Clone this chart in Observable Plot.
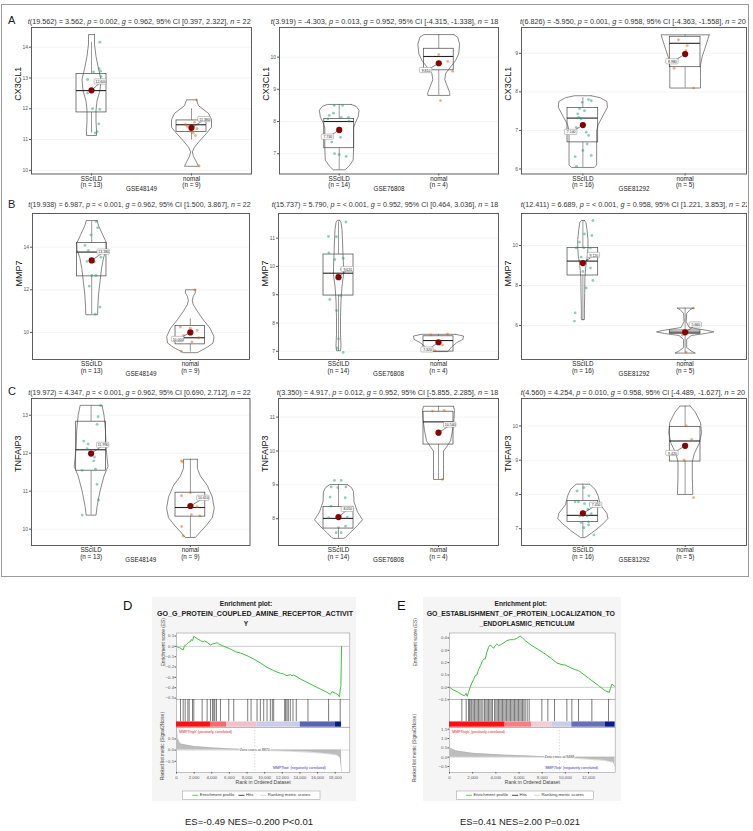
<!DOCTYPE html>
<html><head><meta charset="utf-8">
<script src="https://cdn.jsdelivr.net/npm/d3@7"></script>
<script src="https://cdn.jsdelivr.net/npm/@observablehq/plot@0.6"></script>
<style>
html,body{margin:0;padding:0;background:#fff;}
#root{position:relative;width:753px;height:831px;overflow:hidden;font-family:"Liberation Sans",Arial,sans-serif;}
</style></head><body><div id="root"></div>
<script>
// ================= DATA =================
const geneNames = ["CX3CL1", "MMP7", "TNFAIP3"];
const datasets = ["GSE48149", "GSE76808", "GSE81292"];
const groupNames = ["SScILD", "nomal"];
const nSScILD = [13, 14, 16];
const nNormal = [9, 4, 5];
const statSubtitles = [
  "t(19.562) = 3.562, p = 0.002, g = 0.962, 95% CI [0.397, 2.322], n = 22",
  "t(3.919) = -4.303, p = 0.013, g = 0.952, 95% CI [-4.315, -1.338], n = 18",
  "t(6.826) = -5.950, p = 0.001, g = 0.958, 95% CI [-4.363, -1.558], n = 20",
  "t(19.938) = 6.987, p = < 0.001, g = 0.962, 95% CI [1.500, 3.867], n = 22",
  "t(15.737) = 5.790, p = < 0.001, g = 0.952, 95% CI [0.464, 3.036], n = 18",
  "t(12.411) = 6.689, p = < 0.001, g = 0.958, 95% CI [1.221, 3.853], n = 22",
  "t(19.972) = 4.347, p = < 0.001, g = 0.962, 95% CI [0.690, 2.712], n = 22",
  "t(3.350) = 4.917, p = 0.012, g = 0.952, 95% CI [-5.855, 2.285], n = 18",
  "t(4.560) = 4.254, p = 0.010, g = 0.958, 95% CI [-4.489, -1.627], n = 20"
];
const yDomains = [[9.88,14.64],[6.37,10.92],[5.87,9.67],[8.73,15.58],[6.71,11.87],[4.3,11.6],[9.57,13.44],[7.21,11.55],[6.51,10.80]];
const yTickValues = [[10,11,12,13,14],[7,8,9,10],[6,7,8,9],[10,12,14],[7,8,9,10,11],[6,8,10],[10,11,12,13],[8,9,10,11],[7,8,9,10]];

// violin outlines: [value, half-width]
const violinSScILD = [
  [[14.41,0.03],[14.1,0.03],[13.7,0.045],[13.3,0.07],[12.95,0.095],[12.6,0.085],[12.25,0.055],[11.95,0.045],[11.6,0.045],[11.3,0.05],[11.13,0.05]],
  [[8.53,0.12],[8.47,0.17],[8.35,0.2],[8.15,0.19],[7.95,0.16],[7.8,0.145],[7.2,0.145],[6.8,0.14],[6.62,0.1],[6.5,0.06]],
  [[7.90,0.08],[7.85,0.17],[7.75,0.235],[7.6,0.24],[7.4,0.2],[7.15,0.15],[7.0,0.135],[6.5,0.135],[6.1,0.135],[6.04,0.11]],
  [[15.25,0.055],[15.0,0.07],[14.6,0.11],[14.2,0.15],[13.9,0.15],[13.5,0.12],[13.0,0.1],[12.4,0.085],[11.8,0.07],[11.2,0.062],[10.83,0.06]],
  [[11.63,0.012],[11.55,0.025],[11.3,0.035],[10.9,0.04],[10.4,0.045],[10.0,0.05],[9.7,0.05],[9.3,0.035],[8.8,0.025],[8.2,0.02],[7.6,0.02],[7.2,0.025],[7.02,0.02]],
  [[11.25,0.015],[11.15,0.03],[10.8,0.04],[10.3,0.05],[9.9,0.05],[9.5,0.045],[9.0,0.03],[8.4,0.02],[7.6,0.018],[6.8,0.015],[6.3,0.015]],
  [[13.26,0.11],[13.0,0.13],[12.6,0.145],[12.2,0.15],[11.9,0.16],[11.65,0.17],[11.4,0.13],[11.0,0.09],[10.6,0.06],[10.37,0.05]],
  [[9.01,0.087],[8.92,0.13],[8.8,0.15],[8.5,0.155],[8.2,0.19],[7.97,0.24],[7.8,0.19],[7.6,0.12],[7.45,0.07],[7.42,0.05]],
  [[8.30,0.065],[8.15,0.12],[7.95,0.15],[7.7,0.17],[7.45,0.235],[7.3,0.245],[7.15,0.2],[6.95,0.12],[6.8,0.05],[6.74,0.02]]
];
const violinNormal = [
  [[12.29,0.05],[12.1,0.07],[11.85,0.17],[11.65,0.2],[11.4,0.2],[11.2,0.15],[10.95,0.08],[10.75,0.03],[10.6,0.008],[10.45,0.02],[10.3,0.045],[10.13,0.07]],
  [[10.70,0.15],[10.62,0.19],[10.4,0.21],[10.1,0.2],[9.9,0.17],[9.7,0.12],[9.5,0.07],[9.3,0.06],[9.1,0.085],[8.9,0.11],[8.81,0.11]],
  [[9.48,0.235],[9.35,0.22],[9.1,0.19],[8.9,0.165],[8.68,0.15],[8.4,0.15],[8.1,0.15]],
  [[12.0,0.05],[11.85,0.05],[11.7,0.03],[11.5,0.02],[11.3,0.03],[11.0,0.07],[10.6,0.13],[10.2,0.2],[9.8,0.24],[9.5,0.23],[9.3,0.17],[9.1,0.09],[9.05,0.07]],
  [[7.6,0.17],[7.54,0.25],[7.42,0.245],[7.3,0.18],[7.15,0.13],[7.02,0.1],[6.99,0.09]],
  [[6.87,0.08],[6.8,0.05],[6.6,0.015],[6.2,0.01],[5.9,0.04],[5.75,0.22],[5.68,0.28],[5.6,0.2],[5.5,0.06],[5.3,0.015],[4.9,0.015],[4.72,0.06],[4.62,0.1]],
  [[11.84,0.07],[11.6,0.07],[11.4,0.1],[11.15,0.17],[10.85,0.22],[10.55,0.24],[10.3,0.22],[10.1,0.16],[9.9,0.09],[9.78,0.05]],
  [[11.32,0.15],[11.2,0.16],[10.95,0.155],[10.6,0.14],[10.3,0.12],[10.12,0.08],[10.0,0.05],[9.6,0.05],[9.16,0.05]],
  [[10.58,0.05],[10.4,0.1],[10.1,0.15],[9.8,0.16],[9.5,0.14],[9.2,0.09],[8.95,0.07],[8.5,0.07],[8.0,0.075]]
];
// box stats: [q1, median, q3, whisker low, whisker high]
const boxSScILD = [
  [11.88,12.59,13.13,11.21,14.16],[7.17,8.0,8.08,6.5,8.53],[6.69,7.32,7.58,6.04,7.85],
  [12.63,13.77,14.19,10.83,15.2],[8.97,9.76,10.42,7.0,11.57],[8.5,9.22,9.87,6.22,11.25],
  [11.54,12.09,12.83,10.37,13.25],[7.71,8.01,8.35,7.42,9.01],[7.20,7.39,7.81,6.74,8.30]
];
const boxNormal = [
  [11.24,11.48,11.62,10.98,12.0],[9.59,10.02,10.26,8.81,10.70],[8.64,9.26,9.43,8.1,9.48],
  [9.44,9.75,10.30,9.08,10.64],[6.99,7.38,7.53,6.99,7.6],[5.58,5.67,5.75,4.62,6.87],
  [10.33,10.57,10.96,9.78,11.84],[10.19,10.86,11.16,9.16,11.32],[8.96,9.56,9.97,8.0,10.58]
];
const meanSScILD = [12.60, 7.74, 7.14, 13.38, 9.62, 9.12, 11.99, 8.05, 7.45];
const meanNormal = [11.38, 9.81, 8.98, 10.00, 7.32, 5.66, 10.61, 10.54, 9.42];
// points: [jitter, value]
const pointsSScILD = [
  [[0.083,14.16],[0.076,13.30],[0.09,13.22],[0.096,13.05],[-0.04,12.95],[0.086,12.85],[-0.04,12.51],[0.01,12.0],[0.083,11.98],[0.073,11.51],[0.056,11.26],[0.037,11.21],[0.02,13.2]],
  [[-0.05,8.50],[0.034,8.50],[-0.1,8.19],[-0.057,8.26],[0.02,8.13],[0.094,8.13],[-0.114,8.08],[0.1,8.01],[0,7.67],[0.013,7.51],[-0.047,7.0],[0,6.97],[0.07,6.92],[-0.074,7.36]],
  [[-0.007,7.73],[0.056,7.80],[0.082,7.77],[-0.033,7.56],[-0.05,7.43],[-0.042,7.34],[-0.016,7.30],[0.033,6.95],[0.056,6.87],[0,6.48],[-0.075,6.32],[0.082,6.35],[-0.062,6.07],[0.016,7.51],[-0.065,7.08],[0.042,6.65]],
  [[0.044,15.2],[0.06,14.91],[-0.007,14.58],[-0.068,14.08],[-0.034,13.84],[0.095,13.53],[-0.047,13.33],[0.027,13.30],[0,12.67],[0.044,12.67],[-0.024,12.17],[0.084,11.19],[0.037,10.86]],
  [[0.074,11.57],[-0.1,11.06],[-0.02,11.05],[-0.097,10.48],[-0.037,10.24],[0.047,10.29],[0.027,9.89],[-0.013,9.68],[-0.087,8.83],[-0.02,8.44],[-0.013,7.11],[0.047,6.96],[0,7.44],[0.02,8.97]],
  [[0.098,11.25],[0.016,10.58],[0.088,10.5],[-0.065,9.88],[0.01,9.88],[0.075,9.87],[0.082,9.58],[0,8.7],[0.075,8.87],[0.033,7.88],[0.098,8.25],[-0.075,6.63],[-0.082,6.22],[-0.016,9.42],[0.042,9.25],[-0.033,10.17]],
  [[0.095,13.25],[0.071,12.96],[0.06,12.76],[-0.03,12.24],[-0.04,12.12],[0.034,11.9],[-0.09,11.55],[0.044,11.58],[0.06,11.18],[0.074,10.77],[-0.09,10.37],[-0.074,12.32],[0.027,11.8]],
  [[-0.04,9.13],[0.027,9.13],[-0.074,8.94],[-0.007,8.92],[0.074,8.94],[-0.084,8.64],[-0.074,8.37],[0.067,8.62],[-0.1,8.03],[0.07,7.78],[0,7.74],[-0.023,7.59],[0.027,7.59],[0.087,8.05]],
  [[-0.056,8.10],[0.01,8.2],[0.059,7.96],[-0.042,7.79],[0.016,7.73],[-0.075,7.79],[0.075,7.71],[0.049,7.57],[0.082,7.44],[0.042,7.37],[-0.03,7.37],[-0.016,7.18],[0.056,7.2],[0.056,7.11],[0.01,7.03],[0.108,6.82]]
];
const pointsNormal = [
  [[0.05,12.29],[0.076,10.14],[0.03,11.56],[-0.043,11.42],[0.056,11.35],[-0.017,11.27],[0.017,11.21],[-0.06,11.49],[0.04,11.13]],
  [[0,10.08],[0.09,9.87],[0.14,9.56],[0.017,8.65]],
  [[-0.065,9.35],[-0.108,8.61],[0.082,8.10],[0.007,9.07],[0.02,9.2]],
  [[0.05,12.0],[-0.1,10.25],[0,10.2],[0.068,10.09],[-0.068,9.86],[-0.12,9.63],[0.084,9.75],[0.017,9.55],[-0.09,9.11]],
  [[-0.077,7.58],[0.09,7.61],[0.04,7.22],[-0.037,7.02]],
  [[0.082,6.87],[-0.016,5.75],[0.023,5.67],[-0.026,5.53],[0.01,4.67]],
  [[-0.09,11.8],[-0.078,11.77],[0,10.96],[-0.09,10.88],[0.068,10.59],[0.095,10.35],[0.01,10.38],[-0.088,10.07],[-0.074,9.82]],
  [[-0.06,11.18],[0.057,11.2],[0.04,9.16],[0,10.49]],
  [[0.013,10.0],[0.065,9.61],[-0.01,9.0],[0.082,7.91],[0,9.37]]
];

// ---- GSEA data ----
const gseaTitleD = ["Enrichment plot:", "GO_G_PROTEIN_COUPLED_AMINE_RECEPTOR_ACTIVIT", "Y"];
const gseaTitleE = ["Enrichment plot:", "GO_ESTABLISHMENT_OF_PROTEIN_LOCALIZATION_TO", "_ENDOPLASMIC_RETICULUM"];
const gseaStatsD = "ES=-0.49 NES=-0.200 P<0.01";
const gseaStatsE = "ES=0.41 NES=2.00 P=0.021";
const legendLabels = ["Enrichment profile", "Hits", "Ranking metric scores"];
const rankTicksD = [0,2000,4000,6000,8000,10000,12000,14000,16000,18000];
const rankTicksE = [0,2000,4000,6000,8000,10000,12000];
const esTicksD = [-0.5,-0.4,-0.3,-0.2,-0.1,0,0.1];
const esTicksE = [-0.1,0,0.1,0.2,0.3,0.4];
const metricTicksD = [-0.5,0,0.5];
const metricTicksE = [-0.5,0,0.5,1,1.5];
const zeroCrossD = 8870;
const zeroCrossE = 9488;
const esCurveD = [[0,0],[453,-0.019],[755,-0.035],[906,0.006],[1132,0.016],[1359,0.039],[1585,0.045],[1661,0.065],[1812,0.055],[1962,0.097],[2189,0.084],[2415,0.071],[2717,0.055],[3019,0.045],[3170,0.052],[3472,0.039],[3849,0.013],[4076,0.023],[4378,0.029],[4604,0.035],[4793,0.023],[4982,0.016],[5359,0],[5925,-0.019],[6303,-0.035],[6680,-0.052],[7246,-0.065],[8001,-0.09],[8756,-0.123],[9510,-0.161],[10265,-0.203],[11020,-0.235],[11397,-0.248],[11775,-0.261],[12152,-0.268],[12530,-0.284],[12907,-0.274],[13096,-0.284],[13284,-0.277],[13662,-0.294],[14039,-0.316],[14794,-0.348],[15549,-0.381],[16304,-0.413],[17058,-0.445],[17436,-0.465],[17625,-0.439],[18002,-0.452],[18380,-0.471],[18493,-0.49],[18568,-0.413],[18643,-0.387],[18719,0]];
const hitsD = [453,755,981,1283,1434,1812,1962,2906,3472,3849,4076,4227,4340,4529,4982,5925,6491,8076,8454,9133,9510,9888,10265,10643,10869,11020,12266,12379,12530,12681,12907,13209,13586,14907,17247,18568];
const metricD = [[0,0.95],[60,0.75],[150,0.5],[450,0.27],[1962,0.16],[3849,0.1],[5736,0.06],[7623,0.03],[8870,0],[11397,-0.03],[13284,-0.06],[15171,-0.1],[17058,-0.16],[18190,-0.22],[18568,-0.33],[18680,-0.7],[18719,-0.95]];
const colorBandD = [[0,3850,1],[3850,5700,0.6],[5700,9130,0.2],[9130,14040,-0.15],[14040,18000,-0.65],[18000,18720,-1]];
const esCurveE = [[0,0],[345,-0.022],[777,-0.041],[1065,-0.059],[1295,-0.068],[1439,-0.049],[1525,-0.073],[1640,-0.041],[1784,0],[1928,0.035],[2072,0.062],[2216,0.095],[2360,0.1],[2446,0.127],[2561,0.154],[2677,0.176],[2849,0.216],[2964,0.23],[3079,0.23],[3223,0.284],[3367,0.324],[3511,0.343],[3655,0.332],[3799,0.316],[3943,0.338],[4087,0.351],[4231,0.338],[4375,0.343],[4662,0.359],[4950,0.378],[5238,0.386],[5526,0.386],[5814,0.397],[6101,0.414],[6245,0.405],[6533,0.378],[7109,0.338],[7684,0.305],[8260,0.27],[8835,0.23],[9267,0.197],[9699,0.184],[9988,0.181],[10562,0.154],[10850,0.143],[11138,0.135],[11713,0.095],[12289,0.054],[12865,0.014],[13440,-0.027],[13786,-0.041],[13872,-0.014],[14016,0.027],[14246,0.008]];
const hitsE = [1065,1439,1640,1727,1842,1928,2043,2159,2274,2389,2504,2619,2734,2878,3022,3137,3252,3367,3482,3598,3713,3885,4000,4116,4231,4346,4461,4576,4691,4806,4921,5037,5152,5267,5382,5497,5612,5727,5842,5958,6073,6188,6303,6418,6533,6706,6878,7972,8490,9066,10131,10562,11138,12289,13728];
const metricE = [[0,0.5],[489,0.34],[1928,0.21],[3367,0.16],[4806,0.11],[6245,0.07],[7684,0.04],[9488,0],[10562,-0.05],[12001,-0.11],[13440,-0.18],[14160,-0.29],[14280,-0.46]];
const colorBandE = [[0,4800,1],[4800,7100,0.5],[7100,8835,0.15],[8835,10560,-0.15],[10560,13440,-0.6],[13440,14300,-1]];

// ================= LAYOUT =================
const root = document.getElementById("root");
const FONT = '"Liberation Sans", Arial, sans-serif';
const colorSScILD = "#1B9E77", colorNormal = "#D95F02";
const panelFrames = [
  [30.5,250.5,27,173.5],[279.3,498.3,27,173.5],[520.7,745.7,27,173.5],
  [31.5,248.5,213,359],[278.3,498.3,213,359],[520.7,745.7,213,359],
  [31,249.5,397.5,544.5],[278.3,498.3,397.5,544.5],[520.7,745.7,397.5,544.5]
];
const meanLabelOffsets = [
  [[9.3,-8.3],[13,-8.3]],[[-11.3,7.3],[-12.7,7.3]],[[-11.7,7.3],[-12.7,7.7]],
  [[12,-8.3],[-12.3,7]],[[9.3,-7.7],[-11,7.7]],[[11,-7.7],[10.7,-7.3]],
  [[12,-8.3],[13,-7.7]],[[9.3,-7.7],[11.7,-7.7]],[[13.3,-8],[-12.7,7.7]]
];

function place(el, left, top) {
  el.style.position = "absolute";
  el.style.left = left + "px";
  el.style.top = top + "px";
  el.style.background = "transparent";
  el.style.overflow = "visible";
  el.style.maxWidth = "none";
  root.appendChild(el);
}

// outer frame of rows A-C
const frameDiv = document.createElement("div");
Object.assign(frameDiv.style, {position:"absolute", left:"1px", top:"4px", width:"748px", height:"573px", border:"1px solid #9a9a9a", boxSizing:"border-box"});
root.appendChild(frameDiv);
// GSEA backgrounds
[[152,597,204,204],[423,597,198,204]].forEach(([l,t,w,h]) => {
  const d = document.createElement("div");
  Object.assign(d.style, {position:"absolute", left:l+"px", top:t+"px", width:w+"px", height:h+"px", background:"#f5f5f5"});
  root.appendChild(d);
});

function violinPath(outline, c) {
  const right = outline.map(([v, hw]) => ({x: c + hw, y: v}));
  const left = outline.slice().reverse().map(([v, hw]) => ({x: c - hw, y: v}));
  return [...right, ...left, right[0]];
}

function drawViolinPanel(i) {
  const col = i % 3;
  const [L, R, T, B] = panelFrames[i];
  const [lo, hi] = yDomains[i];
  const W = R - L, H = B - T;
  const mL = 26, mR = 2, mT = 2, mB = 24;
  const xPx = W / 2.2, yPx = H / (hi - lo);
  const groups = [
    {c: 1, violin: violinSScILD[i], box: boxSScILD[i], pts: pointsSScILD[i], mean: meanSScILD[i], color: colorSScILD, off: meanLabelOffsets[i][0]},
    {c: 2, violin: violinNormal[i], box: boxNormal[i], pts: pointsNormal[i], mean: meanNormal[i], color: colorNormal, off: meanLabelOffsets[i][1]}
  ];
  const marks = [
    Plot.gridY(yTickValues[i], {stroke: "#ececec", strokeOpacity: 1, strokeWidth: 0.6}),
    Plot.frame({stroke: "#4d4d4d", strokeWidth: 0.9}),
    Plot.axisY(yTickValues[i], {tickSize: 2, tickPadding: 1.5, fontSize: 5, label: null, stroke: "#555", fill: "#555"}),
    Plot.axisX([1, 2], {tickSize: 2, tickPadding: 0.5, fontSize: 6.3, label: null, stroke: "#555", fill: "#222",
      tickFormat: d => d === 1 ? `${groupNames[0]}\n(n = ${nSScILD[col]})` : `${groupNames[1]}\n(n = ${nNormal[col]})`}),
    Plot.text([datasets[col]], {frameAnchor: "bottom", dy: 16.5, fontSize: 6.3, text: d => d, fill: "#222"}),
    Plot.text([geneNames[Math.floor(i / 3)]], {frameAnchor: "left", dx: -13, rotate: -90, fontSize: 9, text: d => d, fill: "#111"})
  ];
  for (const g of groups) {
    const c = g.c;
    marks.push(Plot.line(violinPath(g.violin, c), {x: "x", y: "y", stroke: "#555", strokeWidth: 0.7}));
    marks.push(Plot.ruleX([g.box], {x: () => c, y1: d => d[3], y2: d => d[0], stroke: "#555", strokeWidth: 0.6}));
    marks.push(Plot.ruleX([g.box], {x: () => c, y1: d => d[2], y2: d => d[4], stroke: "#555", strokeWidth: 0.6}));
    marks.push(Plot.rect([g.box], {x1: () => c - 0.15, x2: () => c + 0.15, y1: d => d[0], y2: d => d[2], fill: "none", stroke: "#444", strokeWidth: 0.7}));
    marks.push(Plot.ruleY([g.box], {y: d => d[1], x1: () => c - 0.15, x2: () => c + 0.15, stroke: "#222", strokeWidth: 1.1}));
    marks.push(Plot.dot(g.pts, {x: d => c + d[0], y: d => d[1], r: 1.4, fill: g.color, fillOpacity: 0.5, stroke: "none"}));
    const lx = c + g.off[0] / xPx, ly = g.mean - g.off[1] / yPx;
    marks.push(Plot.dot([g.mean], {x: () => c, y: d => d, r: 3.1, fill: "#8b0000", stroke: "none"}));
    marks.push(Plot.link([g.mean], {x1: () => c, y1: d => d, x2: () => lx, y2: () => ly, stroke: "#333", strokeWidth: 0.6}));
    marks.push(Plot.rect([g.mean], {x1: () => lx - 6.2 / xPx, x2: () => lx + 6.2 / xPx, y1: () => ly - 2.6 / yPx, y2: () => ly + 2.6 / yPx, fill: "white", stroke: "#888", strokeWidth: 0.5, rx: 1}));
    marks.push(Plot.text([g.mean], {x: () => lx, y: () => ly, text: d => d3.format(".3f")(d), fontSize: 3.5, fill: "#222"}));
  }
  const svg = Plot.plot({
    width: W + mL + mR, height: H + mT + mB,
    marginLeft: mL, marginRight: mR, marginTop: mT, marginBottom: mB,
    x: {domain: [0.4, 2.6], axis: null},
    y: {domain: [lo, hi], axis: null},
    style: {fontFamily: FONT, background: "transparent", color: "#333"},
    marks
  });
  place(svg, L - mL, T - mT);
}
for (let i = 0; i < 9; i++) drawViolinPanel(i);

// ---------- GSEA ----------
function drawGsea(cfg) {
  const {L, R, esT, esB, hitsB, metB, xMax, esDomain, esTicks, curve, hits, band, metric, metricDomain, metricTicks, rankTicks, zero, esLabelDx} = cfg;
  const W = R - L;
  const mL = 40, mR = 2;
  const xs = {domain: [0, xMax], axis: null};
  const color = {type: "linear", domain: [-1, 0, 1], range: ["#0b1a8f", "#eeeef8", "#ff1010"], interpolate: "rgb"};
  const es = Plot.plot({
    width: W + mL + mR, height: esB - esT + 1, marginLeft: mL, marginRight: mR, marginTop: 0.5, marginBottom: 0.5,
    x: xs, y: {domain: esDomain, axis: null},
    style: {fontFamily: FONT, background: "transparent", color: "#555"},
    marks: [
      Plot.frame({fill: "white", stroke: "#9a9a9a", strokeWidth: 0.6}),
      Plot.ruleY([0], {stroke: "#999", strokeWidth: 0.5}),
      Plot.line(curve, {x: d => d[0], y: d => d[1], stroke: "#3cbf3c", strokeWidth: 1}),
      Plot.axisY(esTicks, {tickSize: 1.5, tickPadding: 1, fontSize: 4.3, label: null, tickFormat: d3.format(".1f")}),
      Plot.text(["Enrichment score (ES)"], {frameAnchor: "left", dx: esLabelDx, rotate: -90, fontSize: 4.8, text: d => d, fill: "#444"})
    ]
  });
  place(es, L - mL, esT - 0.5);
  const hp = Plot.plot({
    width: W + mL + mR, height: hitsB - esB, marginLeft: mL, marginRight: mR, marginTop: 0, marginBottom: 0,
    x: xs, y: {domain: [0, 1], axis: null}, color,
    style: {fontFamily: FONT, background: "transparent"},
    marks: [
      Plot.frame({fill: "white", stroke: "#9a9a9a", strokeWidth: 0.6}),
      Plot.rect(band, {x1: d => d[0], x2: d => d[1], y1: () => 0, y2: () => 0.19, fill: d => d[2]}),
      Plot.ruleX(hits, {x: d => d, y1: () => 0.2, y2: () => 1, stroke: "#111", strokeWidth: 0.55})
    ]
  });
  place(hp, L - mL, esB);
  const mB = 17;
  const mp = Plot.plot({
    width: W + mL + mR, height: metB - hitsB + mB, marginLeft: mL, marginRight: mR, marginTop: 0, marginBottom: mB,
    x: xs, y: {domain: metricDomain, axis: null},
    style: {fontFamily: FONT, background: "transparent", color: "#555"},
    marks: [
      Plot.frame({fill: "white", stroke: "#9a9a9a", strokeWidth: 0.6}),
      Plot.areaY(metric, {x: d => d[0], y: d => d[1], fill: "#bdbdbd"}),
      Plot.line(metric, {x: d => d[0], y: d => d[1], stroke: "#aaa", strokeWidth: 0.4}),
      Plot.ruleY([0], {stroke: "#aaa", strokeWidth: 0.4}),
      Plot.ruleX([zero], {x: d => d, stroke: "#bbb", strokeWidth: 0.5, strokeDasharray: "1.5,1.5"}),
      Plot.axisY(metricTicks, {tickSize: 1.5, tickPadding: 1, fontSize: 4.3, label: null, tickFormat: d3.format(".1f")}),
      Plot.axisX(rankTicks, {tickSize: 1.5, tickPadding: 1.5, fontSize: 4.3, label: null, tickFormat: d3.format(",")}),
      Plot.text(["Rank in Ordered Dataset"], {frameAnchor: "bottom", dy: 12, fontSize: 5, text: d => d, fill: "#444"}),
      Plot.text(["'MMP7high' (positively correlated)"], {frameAnchor: "top-left", dx: 2, dy: 2.5, fontSize: 3.6, textAnchor: "start", text: d => d, fill: "#e02020"}),
      Plot.text([zero], {x: d => d, y: () => 0, text: d => "Zero cross at " + d, fontSize: 3.6, fill: "#444", stroke: "white", strokeWidth: 1.5}),
      Plot.text(["'MMP7low' (negatively correlated)"], {frameAnchor: "bottom-right", dx: cfg.lowDx, dy: -3.4, fontSize: 3.6, textAnchor: "end", text: d => d, fill: "#3030d0"})
    ]
  });
  place(mp, L - mL, hitsB);
}

drawGsea({L: 176, R: 349.3, esT: 632.3, esB: 699, hitsB: 726.7, metB: 771.7, xMax: 19650,
  esDomain: [-0.516, 0.129], esTicks: esTicksD, curve: esCurveD, hits: hitsD, band: colorBandD,
  metric: metricD, metricDomain: [-1.0, 1.01], metricTicks: metricTicksD, rankTicks: rankTicksD, zero: zeroCrossD, esLabelDx: -13, lowDx: -24});
drawGsea({L: 449.3, R: 615, esT: 632.3, esB: 699, hitsB: 726.7, metB: 771.7, xMax: 14300,
  esDomain: [-0.1, 0.44], esTicks: esTicksE, curve: esCurveE, hits: hitsE, band: colorBandE,
  metric: metricE, metricDomain: [-0.82, 1.59], metricTicks: metricTicksE, rankTicks: rankTicksE, zero: zeroCrossE, esLabelDx: -34, lowDx: -17});

// ---------- overlay text ----------
const ov = d3.create("svg").attr("width", 753).attr("height", 831)
  .style("position", "absolute").style("left", "0px").style("top", "0px").style("pointer-events", "none")
  .attr("font-family", FONT);
root.appendChild(ov.node());
ov.append("defs").append("clipPath").attr("id", "clipRight").append("rect").attr("x", 0).attr("y", 0).attr("width", 747).attr("height", 831);

function statText(str, x, y, len) {
  const t = ov.append("text").attr("x", x).attr("y", y).attr("dominant-baseline", "middle")
    .attr("font-size", 6.6).attr("fill", "#333").attr("textLength", len).attr("lengthAdjust", "spacingAndGlyphs")
    .attr("clip-path", "url(#clipRight)");
  str.split(/(\b[tpgn](?=\s*[(=]))/).forEach(p => {
    if (!p) return;
    const ts = t.append("tspan").text(p);
    if (/^[tpgn]$/.test(p)) ts.attr("font-style", "italic");
  });
}
const titleRowsY = [21.5, 205, 392.5];
const titleStart = [27.7, 270.7, 520, 28.3, 271.7, 520.7, 28.3, 276.7, 520.7];
const titleEnd = [250.7, 498.3, 745.7, 250.7, 498.3, 749.5, 250.7, 498.3, 745];
for (let i = 0; i < 9; i++) statText(statSubtitles[i], titleStart[i], titleRowsY[Math.floor(i / 3)], titleEnd[i] - titleStart[i]);
["A", "B", "C"].forEach((s, k) => ov.append("text").attr("x", 8).attr("y", titleRowsY[k]).attr("dominant-baseline", "middle").attr("font-size", 11).attr("fill", "#222").text(s));
ov.append("text").attr("x", 123).attr("y", 607).attr("dominant-baseline", "middle").attr("font-size", 13).attr("fill", "#111").text("D");
ov.append("text").attr("x", 397).attr("y", 607).attr("dominant-baseline", "middle").attr("font-size", 13).attr("fill", "#111").text("E");

function gTitle(lines, cx, x2s, x2e, c3) {
  ov.append("text").attr("x", cx).attr("y", 604).attr("text-anchor", "middle").attr("dominant-baseline", "middle").attr("font-size", 6.6).attr("font-weight", "bold").attr("fill", "#222").text(lines[0]);
  ov.append("text").attr("x", x2s).attr("y", 614.5).attr("dominant-baseline", "middle").attr("font-size", 6.6).attr("font-weight", "bold").attr("fill", "#222").attr("textLength", x2e - x2s).attr("lengthAdjust", "spacingAndGlyphs").text(lines[1]);
  ov.append("text").attr("x", c3).attr("y", 624.5).attr("text-anchor", "middle").attr("dominant-baseline", "middle").attr("font-size", 6.6).attr("font-weight", "bold").attr("fill", "#222").text(lines[2]);
}
gTitle(gseaTitleD, 246, 157, 353, 246);
gTitle(gseaTitleE, 520.7, 426.7, 615, 527);

function rankedLabel(x, cy) {
  ov.append("text").attr("transform", `translate(${x},${cy}) rotate(-90)`).attr("text-anchor", "middle").attr("dominant-baseline", "middle").attr("font-size", 4.6).attr("fill", "#444").text("Ranked list metric (Signal2Noise)");
}
rankedLabel(163, 746);
rankedLabel(415, 748);

function legend(x0, x1, y) {
  const w = x1 - x0;
  ov.append("rect").attr("x", x0).attr("y", y - 4.3).attr("width", w).attr("height", 8.6).attr("fill", "white").attr("stroke", "#999").attr("stroke-width", 0.5);
  const colors = ["#3cbf3c", "#111", "#ccc"];
  const gaps = [4, 7, 0];
  const g = ov.append("g");
  let x = 0;
  legendLabels.forEach((t, k) => {
    g.append("line").attr("x1", x).attr("x2", x + 6).attr("y1", y).attr("y2", y).attr("stroke", colors[k]).attr("stroke-width", 0.8);
    x += 7.5;
    const tx = g.append("text").attr("x", x).attr("y", y).attr("dominant-baseline", "middle").attr("font-size", 4.3).attr("fill", "#333").text(t);
    x += tx.node().getComputedTextLength() + gaps[k];
  });
  g.attr("transform", `translate(${x0 + (w - x) / 2},0)`);
}
legend(182.7, 320, 795.3);
legend(456.7, 593.3, 795.3);

ov.append("text").attr("x", 185).attr("y", 822.7).attr("dominant-baseline", "middle").attr("font-size", 9).attr("fill", "#222").attr("textLength", 128).attr("lengthAdjust", "spacingAndGlyphs").text(gseaStatsD);
ov.append("text").attr("x", 460).attr("y", 822.7).attr("dominant-baseline", "middle").attr("font-size", 9).attr("fill", "#222").attr("textLength", 120).attr("lengthAdjust", "spacingAndGlyphs").text(gseaStatsE);
</script></body></html>
